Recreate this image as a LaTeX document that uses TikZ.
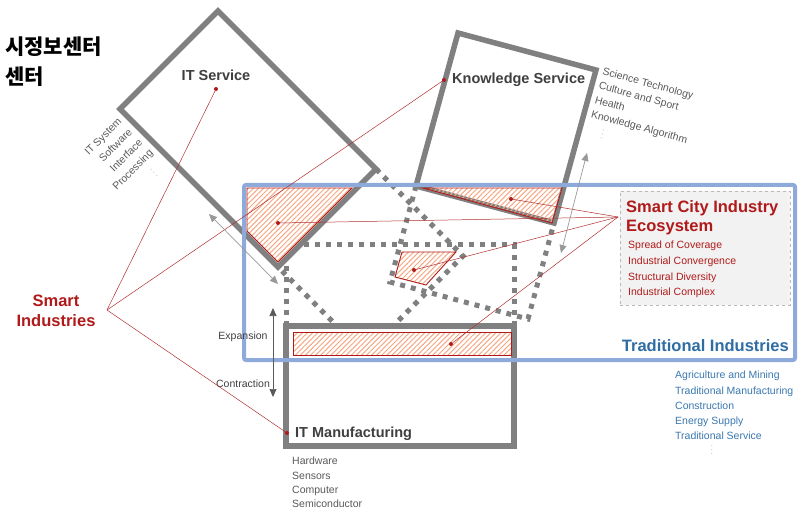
\documentclass[tikz,border=0pt]{standalone}
\usepackage{fontspec}
\setmainfont{Liberation Sans}
\newfontfamily\krfont{Noto Sans CJK KR}
\usepackage{xcolor}
\usepackage{tikz}
\usetikzlibrary{arrows.meta, patterns.meta}
\definecolor{boxgray}{HTML}{808080}
\definecolor{textgray}{HTML}{3F3F3F}
\definecolor{sidegray}{HTML}{595959}
\definecolor{bluebox}{HTML}{8EAADB}
\definecolor{tradblue}{HTML}{2E6DA4}
\definecolor{listblue}{HTML}{3A77B0}
\definecolor{smartred}{HTML}{B01A1A}
\definecolor{linkred}{HTML}{B03030}
\definecolor{hatchorange}{HTML}{F4A883}
\definecolor{citygray}{HTML}{F2F2F2}
\newcommand{\smalldots}{{\fontsize{6}{6}\selectfont$\vdots$}}

\begin{document}
\begin{tikzpicture}[x=1pt,y=-1pt,
		graybox/.style={draw=boxgray,line width=5.5pt,fill=white,line join=miter},
		dashext/.style={draw=boxgray,line width=5pt,dash pattern=on 5pt off 6pt},
		hatched/.style={draw=smartred,line width=0.9pt,pattern={Lines[angle=45,distance=3.6pt,line width=1pt]},pattern color=hatchorange},
		reddot/.style={circle,fill=smartred,inner sep=0pt,minimum size=4pt},
		redlink/.style={draw=linkred,line width=0.5pt},
		twoway/.style={arrows={Triangle[length=8pt,width=7pt]-Triangle[length=8pt,width=7pt]},line width=0.7pt},
		sidetext/.style={text=sidegray,font=\fontsize{10.5}{14.8}\selectfont,inner sep=0pt},
		boxtitle/.style={text=textgray,font=\bfseries\fontsize{14.5}{17}\selectfont,inner sep=0pt}]
			% Picture's frame
			\useasboundingbox (0,0) rectangle (806,513);
			
			% CORNERS OF THE ROTATED BOXES
			\coordinate (itsT) at (218,11);
			\coordinate (itsR) at (376,169);
			\coordinate (itsB) at (278,267);
			\coordinate (itsL) at (120,109);
			\coordinate (itsRx) at (463,256);
			\coordinate (itsBx) at (365,354);
			\coordinate (ksTL) at (458,33);
			\coordinate (ksTR) at (596,70);
			\coordinate (ksBR) at (554,223);
			\coordinate (ksBL) at (416,186);
			\coordinate (ksBRx) at (528,319);
			\coordinate (ksBLx) at (390,282);
			
			% DASHED ELONGATIONS
			\draw[dashext] (itsR) -- (itsRx) -- (itsBx) -- (itsB);
			\draw[dashext] (ksBL) -- (ksBLx) -- (ksBRx) -- (ksBR);
			\draw[dashext] (286,326) -- (286,245) -- (514,245) -- (514,326);
			
			% SOLID BOXES
			\draw[graybox] (286,326) rectangle (514,446);
			\draw[graybox] (itsT) -- (itsR) -- (itsB) -- (itsL) -- cycle;
			\draw[graybox] (ksTL) -- (ksTR) -- (ksBR) -- (ksBL) -- cycle;
			
			% TRADITIONAL INDUSTRIES FRAME
			\draw[bluebox,line width=4pt,rounded corners=2pt] (244,185) rectangle (795,360);
			
			% HATCHED OVERLAPS
			\draw[hatched] (247,188) -- (352,188) -- (278,262) -- (247,231) -- cycle;
			\draw[hatched] (423,188) -- (562,188) -- (552,223) -- cycle;
			\draw[hatched] (402,252) -- (456,252) -- (426,285) -- (395,277) -- cycle;
			\draw[hatched] (293,332) rectangle (511,355);
			
			% SMART CITY BOX
			\node[draw=gray!55,dashed,fill=citygray,line width=0.8pt,minimum width=170pt,minimum height=114pt,inner sep=0pt] (cityBox) at (705,248) {};
			\node[anchor=north west,inner sep=0pt,align=left,text=smartred,font=\bfseries\fontsize{16.5}{19.5}\selectfont] (cityTitle) at (626,200) {Smart City Industry\\Ecosystem};
			\node[anchor=north west,inner sep=0pt,align=left,text=smartred,font=\fontsize{10.5}{15.7}\selectfont] (cityItems) at (628,241) {Spread of Coverage\\Industrial Convergence\\Structural Diversity\\Industrial Complex};
			
			% TITLES
			\node[boxtitle] (itsLabel) at (216,75) {IT Service};
			\node[boxtitle,anchor=west] (ksLabel) at (452,80) {Knowledge Service};
			\node[boxtitle,anchor=west] (itmLabel) at (295,434) {IT Manufacturing};
			\node[align=center,text=smartred,font=\bfseries\fontsize{16.5}{20}\selectfont,inner sep=0pt] (smartLabel) at (56,311) {Smart\\Industries};
			\node[anchor=east,text=tradblue,font=\bfseries\fontsize{16.5}{20}\selectfont,inner sep=0pt] (tradLabel) at (789,346) {Traditional Industries};
			\node[anchor=north west,inner sep=0pt,align=left,font=\krfont\bfseries\fontsize{21}{30}\selectfont] (krHead) at (5,37) {시정보센터\\센터};
			
			% SIDE LISTS
			\node[sidetext,rotate=45,anchor=north east,align=right] (itsList) at (117,117) {IT System\\Software\\Interface\\Processing\\\smalldots\hspace*{12pt}};
			\node[sidetext,rotate=-15.2,anchor=north west,align=left] (ksList) at (604,67) {Science Technology\\Culture and Sport\\Health\\Knowledge Algorithm\\\hspace*{15pt}\smalldots};
			\node[sidetext,anchor=north west,align=left,font=\fontsize{10.5}{14.3}\selectfont] (itmList) at (292,457) {Hardware\\Sensors\\Computer\\Semiconductor};
			\node[sidetext,anchor=north west,align=left,text=listblue,font=\fontsize{10.5}{15.2}\selectfont] (tradList) at (675,371) {Agriculture and Mining\\Traditional Manufacturing\\Construction\\Energy Supply\\Traditional Service\\\hspace*{36pt}\smalldots};
			
			% EXPANSION / CONTRACTION
			\node[text=textgray,font=\fontsize{10.5}{12}\selectfont,inner sep=0pt] (expLabel) at (243,337) {Expansion};
			\node[text=textgray,font=\fontsize{10.5}{12}\selectfont,inner sep=0pt] (conLabel) at (243,384) {Contraction};
			
			% DOTS AND HUBS
			\node[reddot] (dotITS) at (216,89) {};
			\node[reddot] (dotKS) at (444,80) {};
			\node[reddot] (dotITM) at (287,433) {};
			\node[reddot] (dotPent) at (278,223) {};
			\node[reddot] (dotTri) at (511,199) {};
			\node[reddot] (dotQuad) at (414,270) {};
			\node[reddot] (dotRect) at (451,344) {};
			\coordinate (smartHub) at (107,310);
			\coordinate (cityHub) at (618,217);
			
			% RED LINKS
			\draw[redlink] (smartHub) -- (dotITS);
			\draw[redlink] (smartHub) -- (dotKS);
			\draw[redlink] (smartHub) -- (dotITM);
			\draw[redlink] (cityHub) -- (dotPent);
			\draw[redlink] (cityHub) -- (dotTri);
			\draw[redlink] (cityHub) -- (dotQuad);
			\draw[redlink] (cityHub) -- (dotRect);
			
			% ARROWS
			\coordinate (itsArrowA) at (209,214);
			\coordinate (itsArrowB) at (278,284);
			\coordinate (growTop) at (273,308);
			\coordinate (growBot) at (273,397);
			\coordinate (ksArrowA) at (587,153);
			\coordinate (ksArrowB) at (561,253);
			\draw[twoway,gray!80] (itsArrowA) -- (itsArrowB);
			\draw[twoway,sidegray] (growTop) -- (growBot);
			\draw[twoway,gray!80] (ksArrowA) -- (ksArrowB);
\end{tikzpicture}
\end{document}
